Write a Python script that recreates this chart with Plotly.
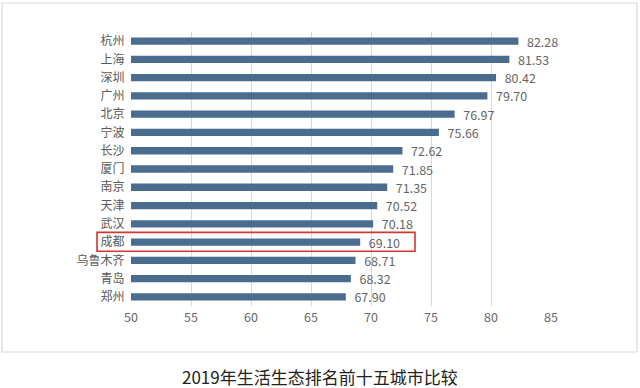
import plotly.graph_objects as go

cities = ["杭州", "上海", "深圳", "广州", "北京", "宁波", "长沙", "厦门", "南京", "天津", "武汉", "成都", "乌鲁木齐", "青岛", "郑州"]
scores = [82.28, 81.53, 80.42, 79.70, 76.97, 75.66, 72.62, 71.85, 71.35, 70.52, 70.18, 69.10, 68.71, 68.32, 67.90]
x_ticks = [50, 55, 60, 65, 70, 75, 80, 85]
title = "2019年生活生态排名前十五城市比较"
highlight = "成都"

L, R, T, B = 131, 551, 32, 306
W, H = 640, 388
pw, ph = R - L, B - T

def px_x(p):
    return (p - L) / pw

def px_y(p):
    return (B - p) / ph

fig = go.Figure(go.Bar(
    x=scores, y=cities, orientation="h",
    marker=dict(color="#4A6C8F", line=dict(width=0)),
    width=0.40,
    text=["  " + f"{v:.2f}" for v in scores], textposition="outside",
    textfont=dict(size=12.5, color="#666666"),
    constraintext="none",
    cliponaxis=False,
))

hi = cities.index(highlight)
fig.add_shape(type="rect", xref="paper", yref="y",
              x0=px_x(97), x1=px_x(415), y0=hi - 0.53, y1=hi + 0.5,
              line=dict(color="#D0392E", width=1.6))
fig.add_shape(type="rect", xref="paper", yref="paper",
              x0=px_x(2), x1=px_x(637), y0=px_y(352), y1=px_y(3),
              line=dict(color="#D9D9D9", width=1.2), layer="below")
fig.add_annotation(text=title, xref="paper", yref="paper",
                   x=px_x(320), y=px_y(376), showarrow=False,
                   xanchor="center", yanchor="middle",
                   font=dict(size=17, color="#222222", family="Noto Sans CJK SC"))

fig.update_layout(
    width=W, height=H,
    margin=dict(l=L, r=W - R, t=T, b=H - B, autoexpand=False),
    paper_bgcolor="white", plot_bgcolor="white",
    font=dict(family="Noto Sans CJK SC, sans-serif", size=12, color="#595959"),
    showlegend=False,
    bargap=0.5,
)
fig.update_xaxes(range=[50, 85], tickvals=x_ticks, showgrid=True, gridcolor="#D9D9D9",
                 gridwidth=1, zeroline=False, showline=False, automargin=False,
                 ticklabelstandoff=2,
                 tickfont=dict(size=12.5, color="#666666"), ticks="")
fig.update_yaxes(autorange="reversed", showgrid=False, showline=False, ticks="",
                 automargin=False,
                 tickfont=dict(size=12, color="#595959"), ticksuffix="  ")

fig.write_html("out.html", config={"displayModeBar": False},
               post_script="document.body.style.margin='0';")
